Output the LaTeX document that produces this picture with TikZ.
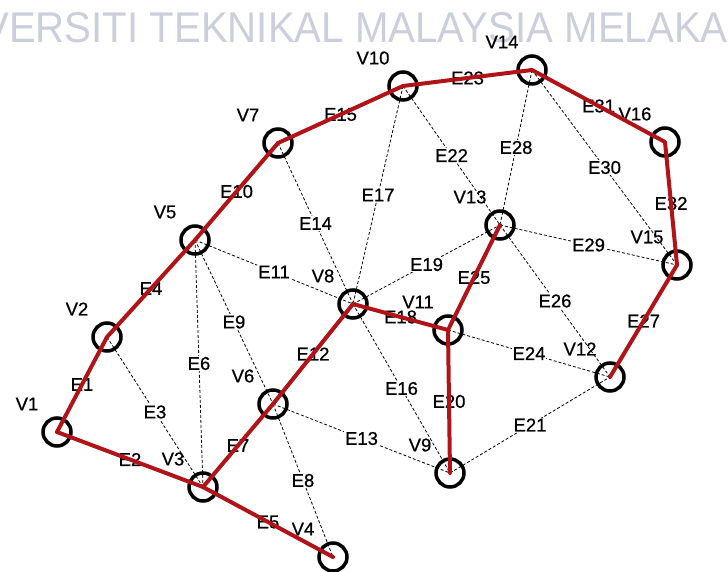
\documentclass[tikz,border=0pt]{standalone}
\usepackage{fontspec}
\setmainfont{Liberation Sans}
\newfontfamily\nimifont[FakeBold=0.6]{Liberation Sans}
\usepackage{graphicx}
\definecolor{polku}{RGB}{176,20,24}
\definecolor{leima}{RGB}{203,207,220}

\begin{document}
\begin{tikzpicture}[x=1pt,y=-1pt,
  vx/.style={draw,circle,line width=3.5pt,minimum size=28pt,inner sep=0pt},
  vlab/.style={font=\nimifont\fontsize{18.5}{18}\selectfont,inner sep=0pt},
  elab/.style={font=\nimifont\fontsize{18.5}{18}\selectfont,fill=white,inner sep=1pt},
  kaari/.style={draw,line width=0.8pt,dash pattern=on 3pt off 2pt},
  reitti/.style={draw,polku,line width=4pt,line join=round,line cap=round}]
\useasboundingbox (0,0) rectangle (728,572);
\node[anchor=base west,text=leima,inner sep=0pt,font=\fontsize{43}{43}\selectfont] (vesileima) at (-18,43)
  {\scalebox{0.935}[1]{VERSITI TEKNIKAL MALAYSIA MELAKA}};
\newcommand\solmu[4]{
\node[vx] (#1) at (#3,#4) {};
\node[vlab] (l#1) at ([shift={(-30,-28)}]#3,#4) {#2};
}
\solmu{v1}{V1}{57}{432}
\solmu{v2}{V2}{107}{337}
\solmu{v3}{V3}{203}{487}
\solmu{v4}{V4}{333}{557}
\solmu{v5}{V5}{195}{240}
\solmu{v6}{V6}{273}{404}
\solmu{v7}{V7}{278}{143}
\solmu{v8}{V8}{353}{304}
\solmu{v9}{V9}{450}{473}
\solmu{v10}{V10}{403}{86}
\solmu{v11}{V11}{448}{330}
\solmu{v12}{V12}{610}{377}
\solmu{v13}{V13}{500}{225}
\solmu{v14}{V14}{532}{70}
\solmu{v15}{V15}{677}{265}
\solmu{v16}{V16}{665}{142}
% muut kaaret
\path[kaari] (v2.center) -- node[elab] (e3) {E3} (v3.center);
\path[kaari] (v5.center) -- node[elab] (e6) {E6} (v3.center);
\path[kaari] (v6.center) -- node[elab] (e8) {E8} (v4.center);
\path[kaari] (v5.center) -- node[elab] (e9) {E9} (v6.center);
\path[kaari] (v5.center) -- node[elab] (e11) {E11} (v8.center);
\path[kaari] (v6.center) -- node[elab] (e13) {E13} (v9.center);
\path[kaari] (v7.center) -- node[elab] (e14) {E14} (v8.center);
\path[kaari] (v8.center) -- node[elab] (e16) {E16} (v9.center);
\path[kaari] (v10.center) -- node[elab] (e17) {E17} (v8.center);
\path[kaari] (v8.center) -- node[elab] (e19) {E19} (v13.center);
\path[kaari] (v9.center) -- node[elab] (e21) {E21} (v12.center);
\path[kaari] (v10.center) -- node[elab] (e22) {E22} (v13.center);
\path[kaari] (v11.center) -- node[elab] (e24) {E24} (v12.center);
\path[kaari] (v13.center) -- node[elab] (e26) {E26} (v12.center);
\path[kaari] (v14.center) -- node[elab] (e28) {E28} (v13.center);
\path[kaari] (v13.center) -- node[elab] (e29) {E29} (v15.center);
\path[kaari] (v14.center) -- node[elab] (e30) {E30} (v15.center);
% reitin nimet
\path (v1) -- node[elab] (e1) {E1} (v2);
\path (v1) -- node[elab] (e2) {E2} (v3);
\path (v2) -- node[elab] (e4) {E4} (v5);
\path (v3) -- node[elab] (e5) {E5} (v4);
\path (v3) -- node[elab] (e7) {E7} (v6);
\path (v5) -- node[elab] (e10) {E10} (v7);
\path (v6) -- node[elab] (e12) {E12} (v8);
\path (v7) -- node[elab] (e15) {E15} (v10);
\path (v8) -- node[elab] (e18) {E18} (v11);
\path (v11) -- node[elab] (e20) {E20} (v9);
\path (v10) -- node[elab] (e23) {E23} (v14);
\path (v11) -- node[elab] (e25) {E25} (v13);
\path (v15) -- node[elab] (e27) {E27} (v12);
\path (v14) -- node[elab] (e31) {E31} (v16);
\path (v16) -- node[elab] (e32) {E32} (v15);
% reitti
\path[reitti] (v1.center) -- (v2.center) -- (v5.center) -- (v7.center) -- (v10.center)
  -- (v14.center) -- (v16.center) -- (v15.center) -- (v12.center);
\path[reitti] (v4.center) -- (v3.center) -- (v1.center);
\path[reitti] (v3.center) -- (v6.center) -- (v8.center) -- (v11.center) -- (v9.center);
\path[reitti] (v11.center) -- (v13.center);
\end{tikzpicture}
\end{document}
